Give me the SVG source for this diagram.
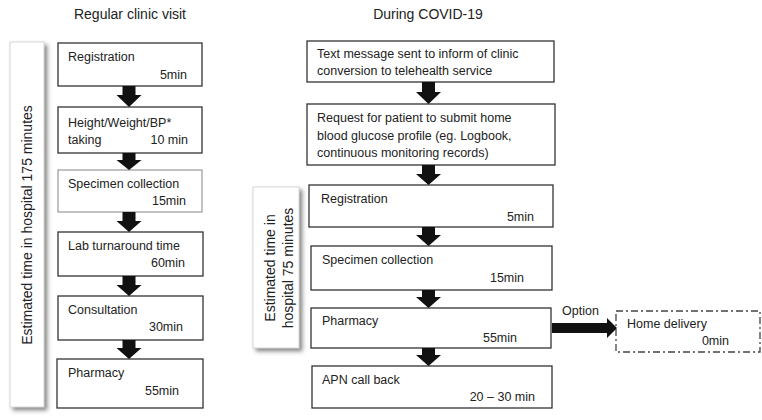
<svg xmlns="http://www.w3.org/2000/svg" width="762" height="420" viewBox="0 0 762 420">
<defs>
<style>
text{font-family:"Liberation Sans",Arial,sans-serif;fill:#222;}
.t{font-size:12.5px;}
.h{font-size:14px;}
.r{text-anchor:end;}
.box{fill:#fff;stroke:#333;stroke-width:1.3;}
.lite{fill:#fff;stroke:#999;stroke-width:1.2;}
.side{fill:#fff;stroke:#ccc;stroke-width:0.8;}
.arr{fill:#111;}
.dd{fill:#fff;stroke:#444;stroke-width:1.3;stroke-dasharray:7 3 2 3;}
</style>
<filter id="sh" x="-30%" y="-10%" width="160%" height="120%">
<feDropShadow dx="3" dy="3" stdDeviation="2" flood-color="#555" flood-opacity="0.7"/>
</filter>
</defs>
<rect width="762" height="420" fill="#fff"/>

<text class="h" x="130" y="19" text-anchor="middle">Regular clinic visit</text>
<text class="h" x="428" y="19" text-anchor="middle">During COVID-19</text>

<g id="side-left">
<rect class="side" x="10" y="42" width="34" height="365" filter="url(#sh)"/>
<text class="h" transform="translate(32,225) rotate(-90)" text-anchor="middle">Estimated time in hospital 175 minutes</text>
</g>

<g id="side-right">
<rect class="side" x="253" y="187" width="46" height="161" filter="url(#sh)"/>
<text class="h" transform="translate(275,268) rotate(-90)" text-anchor="middle">Estimated time in</text>
<text class="h" transform="translate(293,268) rotate(-90)" text-anchor="middle">hospital 75 minutes</text>
</g>

<g id="l1"><rect class="box" x="58" y="43" width="144" height="43"/>
<text class="t" x="68" y="61">Registration</text><text class="t r" x="187" y="79">5min</text></g>
<g id="l2"><rect class="box" x="58" y="107" width="144" height="46"/>
<text class="t" x="68" y="127">Height/Weight/BP*</text><text class="t" x="68" y="144">taking</text><text class="t r" x="188" y="144">10 min</text></g>
<g id="l3"><rect class="lite" x="58" y="170" width="144" height="42"/>
<text class="t" x="68" y="188">Specimen collection</text><text class="t r" x="186" y="205">15min</text></g>
<g id="l4"><rect class="box" x="58" y="232" width="145" height="44"/>
<text class="t" x="68" y="250">Lab turnaround time</text><text class="t r" x="185" y="267">60min</text></g>
<g id="l5"><rect class="box" x="58" y="296" width="145" height="44"/>
<text class="t" x="68" y="314">Consultation</text><text class="t r" x="183" y="331">30min</text></g>
<g id="l6"><rect class="box" x="57" y="359" width="146" height="49"/>
<text class="t" x="68" y="377">Pharmacy</text><text class="t r" x="179" y="395">55min</text></g>

<g id="r1"><rect class="box" x="307" y="41" width="247" height="41"/>
<text class="t" x="317" y="58">Text message sent to inform of clinic</text>
<text class="t" x="317" y="75">conversion to telehealth service</text></g>
<g id="r2"><rect class="box" x="307" y="104" width="248" height="61"/>
<text class="t" x="317" y="122">Request for patient to submit home</text>
<text class="t" x="317" y="140">blood glucose profile (eg. Logbook,</text>
<text class="t" x="317" y="157">continuous monitoring records)</text></g>
<g id="r3"><rect class="box" x="309" y="185" width="244" height="42"/>
<text class="t" x="321" y="203">Registration</text><text class="t r" x="534" y="221">5min</text></g>
<g id="r4"><rect class="box" x="311" y="246" width="241" height="44"/>
<text class="t" x="322" y="264">Specimen collection</text><text class="t r" x="524" y="282">15min</text></g>
<g id="r5"><rect class="box" x="311" y="308" width="240" height="40"/>
<text class="t" x="322" y="325">Pharmacy</text><text class="t r" x="517" y="342">55min</text></g>
<g id="r6"><rect class="box" x="312" y="366" width="240" height="42"/>
<text class="t" x="322" y="384">APN call back</text><text class="t r" x="535" y="401">20 – 30 min</text></g>

<g id="home"><rect class="dd" x="616" y="311" width="144" height="41"/>
<text class="t" x="627" y="328">Home delivery</text><text class="t r" x="729" y="345">0min</text></g>

<g id="connectors">
<path class="arr" d="M122.5,86 h13 v9 h6 l-12.5,12 l-12.5,-12 h6 z"/>
<path class="arr" d="M122.5,153 h13 v7 h6 l-12.5,10 l-12.5,-10 h6 z"/>
<path class="arr" d="M122.5,212 h13 v9 h6 l-12.5,11 l-12.5,-11 h6 z"/>
<path class="arr" d="M122.5,276 h13 v9 h6 l-12.5,11 l-12.5,-11 h6 z"/>
<path class="arr" d="M122.5,340 h13 v8 h6 l-12.5,11 l-12.5,-11 h6 z"/>
<path class="arr" d="M422,82 h13 v10 h6 l-12.5,12 l-12.5,-12 h6 z"/>
<path class="arr" d="M422,165 h13 v9 h6 l-12.5,11 l-12.5,-11 h6 z"/>
<path class="arr" d="M422,227 h13 v8 h6 l-12.5,11 l-12.5,-11 h6 z"/>
<path class="arr" d="M422,290 h13 v7 h6 l-12.5,11 l-12.5,-11 h6 z"/>
<path class="arr" d="M422,348 h13 v7 h6 l-12.5,11 l-12.5,-11 h6 z"/>
<path class="arr" d="M552,323 h55 v-5 l10,10 l-10,10 v-5 h-55 z"/>
<text class="t" x="562" y="315">Option</text>
</g>
</svg>
